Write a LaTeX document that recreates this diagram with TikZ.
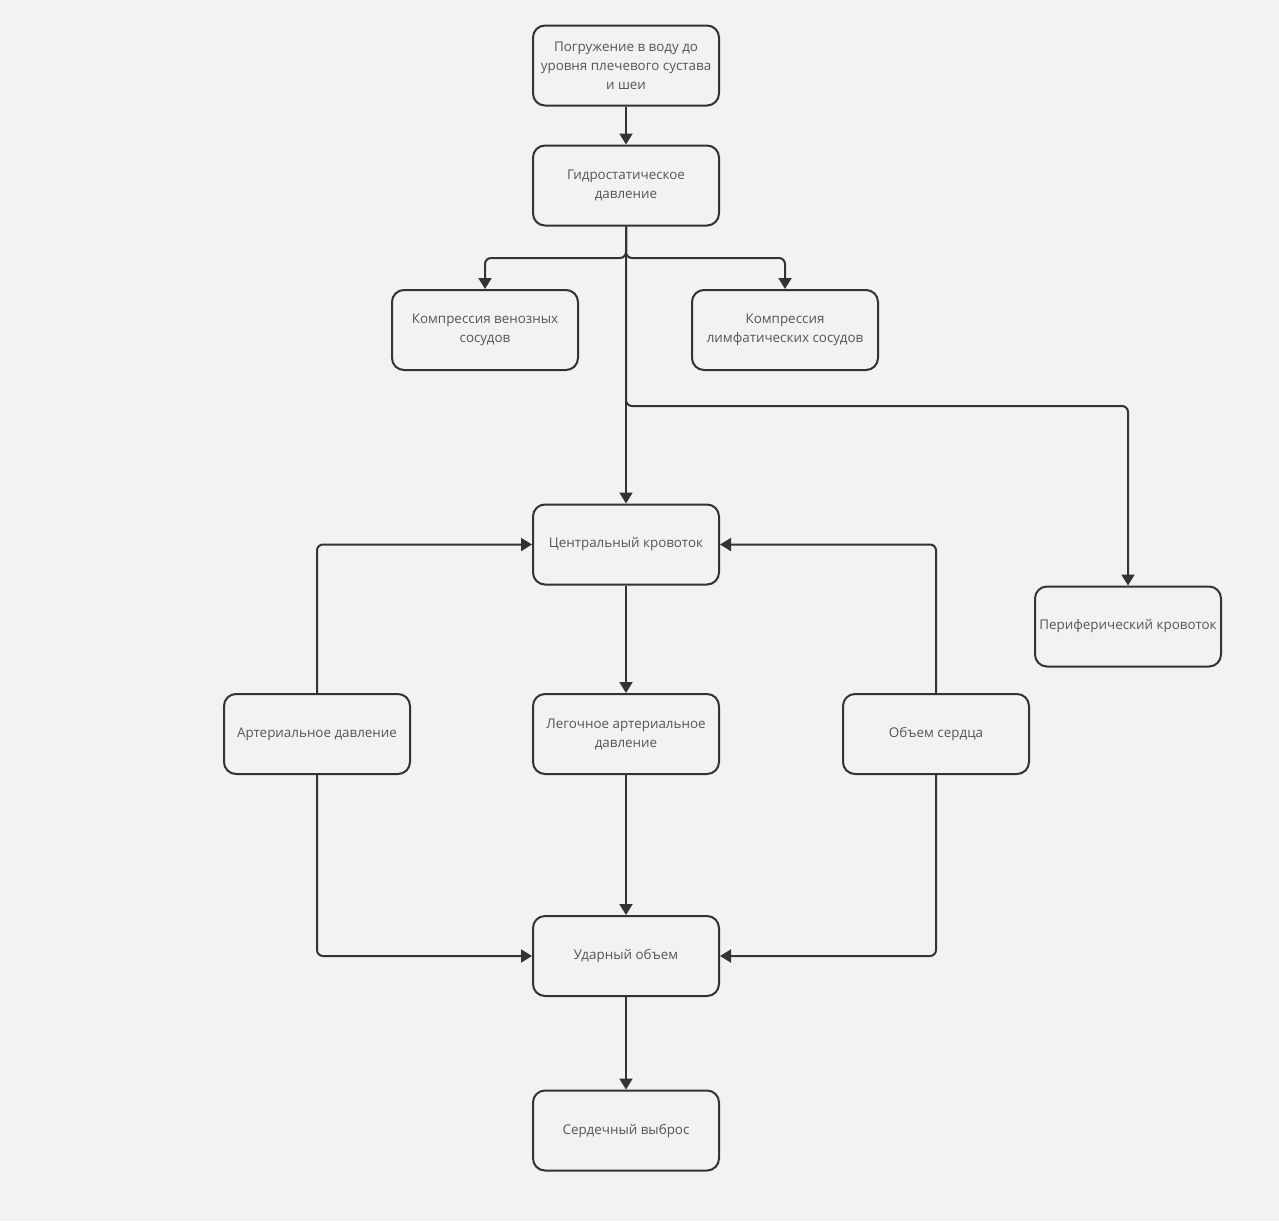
\documentclass[tikz,border=0pt]{standalone}
\usepackage{fontspec}
\setmainfont{Open Sans}
\usetikzlibrary{arrows.meta}

\definecolor{bgcol}{HTML}{F2F2F2}
\definecolor{linecol}{HTML}{333333}
\definecolor{txtcol}{HTML}{555555}

\tikzset{
  block/.style={draw=linecol, line width=2pt, fill=bgcol, rounded corners=12pt,
    minimum width=186pt, minimum height=80pt, inner sep=2pt, align=center,
    text=txtcol, font=\fontsize{13.4}{19}\selectfont},
  link/.style={draw=linecol, line width=2pt, rounded corners=6pt, ->},
}

\begin{document}
\begin{tikzpicture}[x=1pt, y=-1pt, >={Triangle[width=13pt,length=11pt]}]
   \fill[bgcol] (0, 0) rectangle (1279, 1221);
   \useasboundingbox (0, 0) rectangle (1279, 1221);

   \node[block] (immersion) at (626, 65.5) {Погружение в воду до\\уровня плечевого сустава\\и шеи};
   \node[block] (hydro) at (626, 185.5) {Гидростатическое\\давление};
   \node[block] (venous) at (485, 330) {Компрессия венозных\\сосудов};
   \node[block] (lymph) at (785, 330) {Компрессия\\лимфатических сосудов};
   \node[block] (central) at (626, 544.5) {Центральный кровоток};
   \node[block] (periph) at (1128, 626.5) {Периферический кровоток};
   \node[block] (arterial) at (317, 734) {Артериальное давление};
   \node[block] (pulm) at (626, 734) {Легочное артериальное\\давление};
   \node[block] (heartvol) at (936, 734) {Объем сердца};
   \node[block] (stroke) at (626, 956) {Ударный объем};
   \node[block] (output) at (626, 1130.5) {Сердечный выброс};

   % from immersion down
   \draw[link] (immersion) -- (hydro);
   \draw[link] (hydro.south) -- (626, 258) -| (venous.north);
   \draw[link] (hydro.south) -- (626, 258) -| (lymph.north);
   \draw[link] (hydro) -- (central);
   \draw[link] (hydro.south) -- (626, 406) -| (periph.north);

   % into central flow
   \draw[link] (arterial.north) |- (central.west);
   \draw[link] (heartvol.north) |- (central.east);
   \draw[link] (central) -- (pulm);

   % into stroke volume
   \draw[link] (arterial.south) |- (stroke.west);
   \draw[link] (pulm) -- (stroke);
   \draw[link] (heartvol.south) |- (stroke.east);
   \draw[link] (stroke) -- (output);

\end{tikzpicture}
\end{document}
